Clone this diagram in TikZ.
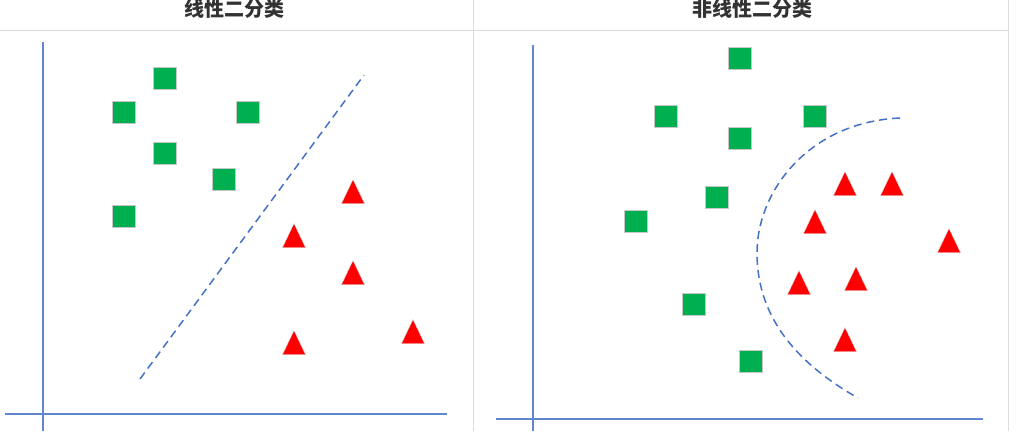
\documentclass[tikz,border=0pt]{standalone}
\usepackage{fontspec}
\newfontfamily\cjk{Noto Sans CJK SC}
\usetikzlibrary{shapes.geometric}
\definecolor{axisblue}{HTML}{4472C4}
\definecolor{ptgreen}{HTML}{00B050}
\definecolor{gridgray}{HTML}{DDDDDD}

\begin{document}
\begin{tikzpicture}[x=1pt, y=-1pt,
	sq/.style={draw=black!22, fill=ptgreen, shape=rectangle, minimum width=23pt, minimum height=22pt, inner sep=0pt},
	tri/.style={draw=black!15, fill=red, isosceles triangle, isosceles triangle stretches, shape border rotate=90, minimum width=23pt, minimum height=24pt, inner sep=0pt, anchor=apex},
	title/.style={font=\cjk\bfseries\fontsize{20}{24}\selectfont, text=black!80},
	axis/.style={axisblue!85, line width=2pt},
	border/.style={gridgray, line width=1pt},
	boundary/.style={axisblue, line width=1.5pt, dash pattern=on 8pt off 5pt}]
		\useasboundingbox (0,0) rectangle (1024,431);

		% table lines
		\draw[border] (0,30) -- (1008,30)
		(473,0) -- (473,431)
		(1008,0) -- (1008,431);

		\path (234,9) node[title] (tl) {线性二分类}
		(752,9) node[title] (tr) {非线性二分类};

		% axes
		\draw[axis] (43,42) -- (43,431)
		(5,414) -- (447,414);
		\draw[axis] (533,45) -- (533,431)
		(496,419) -- (983,419);

		% linear case
		\path (165,78) node[sq] (ls1) {}
		(124,112) node[sq] (ls2) {}
		(248,112) node[sq] (ls3) {}
		(165,153) node[sq] (ls4) {}
		(224,179) node[sq] (ls5) {}
		(124,216) node[sq] (ls6) {};

		\path (353,179) node[tri] (lt1) {}
		(294,223) node[tri] (lt2) {}
		(353,260) node[tri] (lt3) {}
		(294,330) node[tri] (lt4) {}
		(413,319) node[tri] (lt5) {};

		\draw[boundary] (140,379) -- (364,75);

		% nonlinear case
		\path (740,58) node[sq] (rs1) {}
		(666,116) node[sq] (rs2) {}
		(815,116) node[sq] (rs3) {}
		(740,138) node[sq] (rs4) {}
		(717,197) node[sq] (rs5) {}
		(636,221) node[sq] (rs6) {}
		(694,304) node[sq] (rs7) {}
		(751,361) node[sq] (rs8) {};

		\path (845,171) node[tri] (rt1) {}
		(892,171) node[tri] (rt2) {}
		(815,209) node[tri] (rt3) {}
		(949,228) node[tri] (rt4) {}
		(799,270) node[tri] (rt5) {}
		(856,266) node[tri] (rt6) {}
		(845,327) node[tri] (rt7) {};

		\draw[boundary] (900,118) .. controls (810,122) and (757,190) .. (757,253)
		.. controls (757,320) and (800,365) .. (858,398);
	\end{tikzpicture}
\end{document}
